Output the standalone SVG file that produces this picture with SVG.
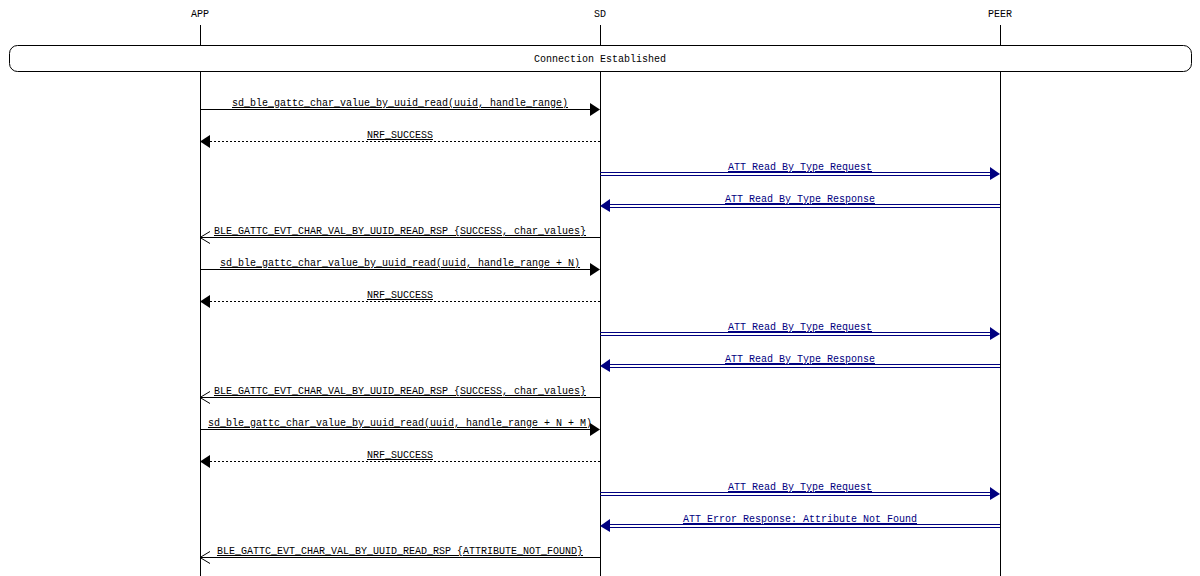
<svg xmlns="http://www.w3.org/2000/svg" width="1200" height="576" viewBox="0 0 1200 576">
<style>
text{font-family:"Liberation Mono","DejaVu Sans Mono",monospace;font-size:10px;text-anchor:middle}
.u{text-decoration:underline}
.l{stroke:#000;stroke-width:1;fill:none}
.d{stroke-dasharray:2,2}
.b{stroke:#000080}
.bt{fill:#000080}
</style>
<rect width="1200" height="576" fill="#fff"/>
<g id="APP"><text x="200" y="17">APP</text><line class="l" x1="200.5" y1="25" x2="200.5" y2="576"/></g>
<g id="SD"><text x="600" y="17">SD</text><line class="l" x1="600.5" y1="25" x2="600.5" y2="576"/></g>
<g id="PEER"><text x="1000" y="17">PEER</text><line class="l" x1="1000.5" y1="25" x2="1000.5" y2="576"/></g>
<g id="conn"><rect x="9.5" y="45.5" width="1182" height="26" rx="8" fill="#fff" stroke="#000"/><text x="600" y="62">Connection Established</text></g>
<g id="connectors">
<!-- call 1 -->
<line class="l" x1="200" y1="109.5" x2="590" y2="109.5"/><polygon points="590,103 600,109.5 590,116"/>
<text class="u" x="400" y="106">sd_ble_gattc_char_value_by_uuid_read(uuid, handle_range)</text>
<line class="l d" x1="210" y1="141.5" x2="600" y2="141.5"/><polygon points="210,135 200,141.5 210,148"/>
<text class="u" x="400" y="138">NRF_SUCCESS</text>
<line class="l b" x1="600" y1="172.5" x2="992" y2="172.5"/><line class="l b" x1="600" y1="175.5" x2="992" y2="175.5"/><polygon class="bt" points="990,167 1000,174 990,180"/>
<text class="u bt" x="800" y="170">ATT Read By Type Request</text>
<line class="l b" x1="608" y1="204.5" x2="1000" y2="204.5"/><line class="l b" x1="608" y1="207.5" x2="1000" y2="207.5"/><polygon class="bt" points="610,199 600,206 610,212"/>
<text class="u bt" x="800" y="202">ATT Read By Type Response</text>
<line class="l" x1="200" y1="237.5" x2="600" y2="237.5"/><polyline class="l" points="210,231.5 200,237.5 210,243.5"/>
<text class="u" x="400" y="234">BLE_GATTC_EVT_CHAR_VAL_BY_UUID_READ_RSP {SUCCESS, char_values}</text>
<!-- call 2 -->
<line class="l" x1="200" y1="269.5" x2="590" y2="269.5"/><polygon points="590,263 600,269.5 590,276"/>
<text class="u" x="400" y="266">sd_ble_gattc_char_value_by_uuid_read(uuid, handle_range + N)</text>
<line class="l d" x1="210" y1="301.5" x2="600" y2="301.5"/><polygon points="210,295 200,301.5 210,308"/>
<text class="u" x="400" y="298">NRF_SUCCESS</text>
<line class="l b" x1="600" y1="332.5" x2="992" y2="332.5"/><line class="l b" x1="600" y1="335.5" x2="992" y2="335.5"/><polygon class="bt" points="990,327 1000,334 990,340"/>
<text class="u bt" x="800" y="330">ATT Read By Type Request</text>
<line class="l b" x1="608" y1="364.5" x2="1000" y2="364.5"/><line class="l b" x1="608" y1="367.5" x2="1000" y2="367.5"/><polygon class="bt" points="610,359 600,366 610,372"/>
<text class="u bt" x="800" y="362">ATT Read By Type Response</text>
<line class="l" x1="200" y1="397.5" x2="600" y2="397.5"/><polyline class="l" points="210,391.5 200,397.5 210,403.5"/>
<text class="u" x="400" y="394">BLE_GATTC_EVT_CHAR_VAL_BY_UUID_READ_RSP {SUCCESS, char_values}</text>
<!-- call 3 -->
<line class="l" x1="200" y1="429.5" x2="590" y2="429.5"/><polygon points="590,423 600,429.5 590,436"/>
<text class="u" x="400" y="426">sd_ble_gattc_char_value_by_uuid_read(uuid, handle_range + N + M)</text>
<line class="l d" x1="210" y1="461.5" x2="600" y2="461.5"/><polygon points="210,455 200,461.5 210,468"/>
<text class="u" x="400" y="458">NRF_SUCCESS</text>
<line class="l b" x1="600" y1="492.5" x2="992" y2="492.5"/><line class="l b" x1="600" y1="495.5" x2="992" y2="495.5"/><polygon class="bt" points="990,487 1000,494 990,500"/>
<text class="u bt" x="800" y="490">ATT Read By Type Request</text>
<line class="l b" x1="608" y1="524.5" x2="1000" y2="524.5"/><line class="l b" x1="608" y1="527.5" x2="1000" y2="527.5"/><polygon class="bt" points="610,519 600,526 610,532"/>
<text class="u bt" x="800" y="522">ATT Error Response: Attribute Not Found</text>
<line class="l" x1="200" y1="557.5" x2="600" y2="557.5"/><polyline class="l" points="210,551.5 200,557.5 210,563.5"/>
<text class="u" x="400" y="554">BLE_GATTC_EVT_CHAR_VAL_BY_UUID_READ_RSP {ATTRIBUTE_NOT_FOUND}</text>
</g>
</svg>
